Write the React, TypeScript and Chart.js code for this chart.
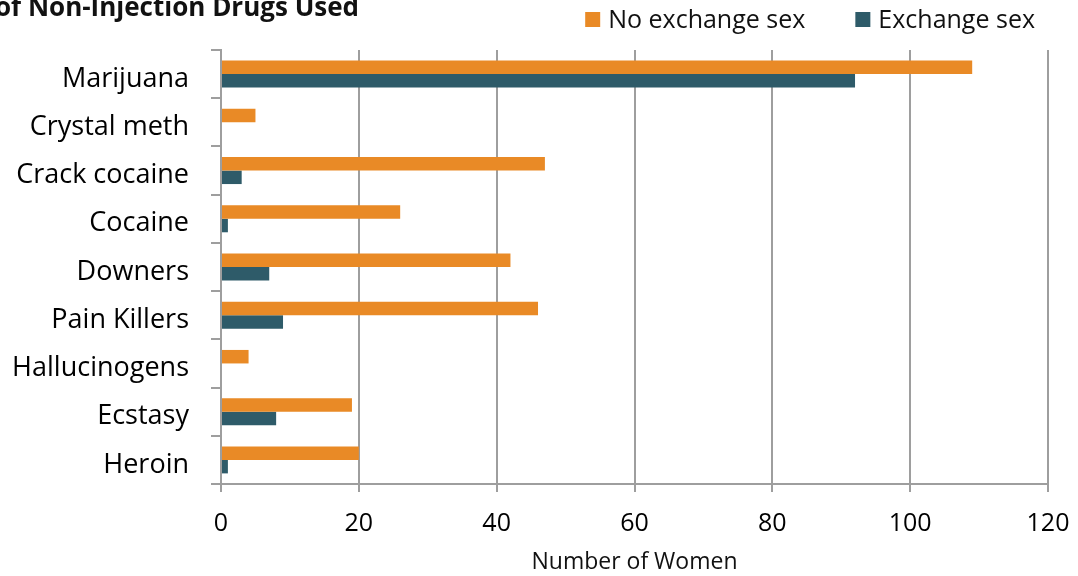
import React, { useEffect, useRef } from "react";
import { Chart, registerables } from "chart.js";

Chart.register(...registerables);

const categories = [
  "Marijuana",
  "Crystal meth",
  "Crack cocaine",
  "Cocaine",
  "Downers",
  "Pain Killers",
  "Hallucinogens",
  "Ecstasy",
  "Heroin",
];
const noExchangeSex = [109, 5, 47, 26, 42, 46, 4, 19, 20];
const exchangeSex = [92, 0, 3, 1, 7, 9, 0, 8, 1];
const xTicks = [0, 20, 40, 60, 80, 100, 120];

const titleText = "of Non-Injection Drugs Used";
const xTitle = "Number of Women";

const ORANGE = "#E98A26";
const TEAL = "#2E5B69";
const GRID = "#9E9E9E";
const FONT = "'Open Sans', 'DejaVu Sans', sans-serif";

// Bold heading at the top-left and a right-aligned legend row.
const headerPlugin = {
  id: "header",
  afterDraw(chart: any) {
    const ctx = chart.ctx as CanvasRenderingContext2D;
    ctx.save();
    ctx.fillStyle = "#111";
    ctx.font = `bold 26px ${FONT}`;
    ctx.textBaseline = "alphabetic";
    ctx.textAlign = "left";
    ctx.fillText(titleText, -5, 16);

    ctx.font = `25px ${FONT}`;
    ctx.textBaseline = "middle";
    const box = 15;
    const gap = 8;
    const itemGap = 50;
    const ds = chart.data.datasets;
    const widths = ds.map((d: any) => box + gap + ctx.measureText(d.label).width);
    const total = widths.reduce((a: number, b: number) => a + b, 0) + itemGap * (ds.length - 1);
    let x = 1035 - total;
    const cy = 21;
    ds.forEach((d: any, i: number) => {
      ctx.fillStyle = d.backgroundColor;
      ctx.fillRect(x, 12, box, box);
      ctx.fillStyle = "#111";
      ctx.fillText(d.label, x + box + gap, cy);
      x += widths[i] + itemGap;
    });
    ctx.restore();
  },
};

export default function App() {
  const ref = useRef<HTMLCanvasElement | null>(null);

  useEffect(() => {
    if (!ref.current) return;
    const chart = new Chart(ref.current, {
      type: "bar",
      data: {
        labels: categories,
        datasets: [
          {
            label: "No exchange sex",
            data: noExchangeSex,
            backgroundColor: ORANGE,
            categoryPercentage: 0.56,
            barPercentage: 1,
          },
          {
            label: "Exchange sex",
            data: exchangeSex,
            backgroundColor: TEAL,
            categoryPercentage: 0.56,
            barPercentage: 1,
          },
        ],
      },
      options: {
        indexAxis: "y",
        responsive: false,
        animation: false,
        layout: { padding: { top: 50, right: 30, left: 0, bottom: 0 } },
        plugins: {
          legend: { display: false },
          tooltip: { enabled: false },
        },
        scales: {
          x: {
            min: 0,
            max: 120,
            afterBuildTicks: (s: any) => {
              s.ticks = xTicks.map((v) => ({ value: v }));
            },
            afterFit: (s: any) => {
              s.height = 92;
              s.paddingLeft = 0;
              s.paddingRight = 0;
            },
            grid: {
              color: GRID,
              lineWidth: 2,
              tickLength: 8,
            },
            border: { color: GRID, width: 2 },
            ticks: {
              color: "#000",
              font: { family: FONT, size: 25 },
              padding: 17,
            },
            title: {
              display: true,
              text: xTitle,
              color: "#111",
              font: { family: FONT, size: 23 },
              padding: { top: 0, bottom: 0 },
            },
          },
          y: {
            afterFit: (s: any) => {
              s.width = 221;
            },
            grid: {
              drawOnChartArea: false,
              color: GRID,
              lineWidth: 2,
              tickLength: 10,
              offset: true,
            },
            border: { color: GRID, width: 2 },
            ticks: {
              color: "#000",
              font: { family: FONT, size: 27 },
              padding: 22,
              labelOffset: 5,
            },
          },
        },
      },
      plugins: [headerPlugin],
    });
    return () => chart.destroy();
  }, []);

  return (
    <div style={{ position: "fixed", left: 0, top: 0, width: 1078, height: 576, background: "#fff" }}>
      <canvas ref={ref} width={1078} height={576} />
    </div>
  );
}
